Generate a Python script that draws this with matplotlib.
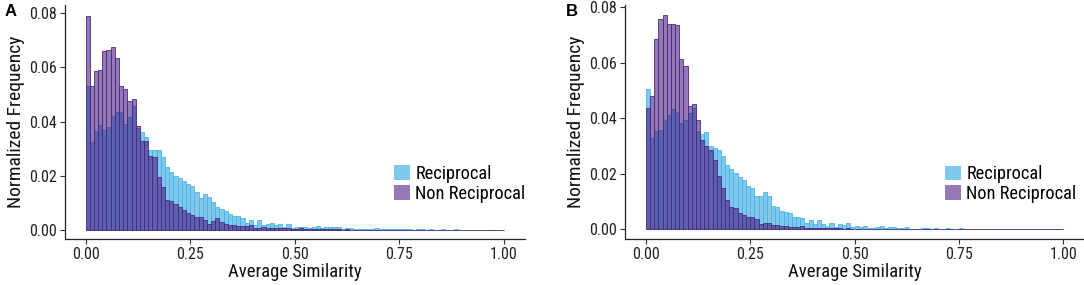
import numpy as np
import matplotlib
matplotlib.use("Agg")
import matplotlib.pyplot as plt
from matplotlib import font_manager
from matplotlib.patches import Patch
from matplotlib.colors import to_rgba

avail = {f.name for f in font_manager.fontManager.ttflist}
fam = [f for f in ['Liberation Sans Narrow', 'Roboto Condensed', 'Open Sans Condensed', 'Liberation Sans'] if f in avail] + ['DejaVu Sans']
plt.rcParams['font.family'] = fam

bin_width = 0.01
bin_left = np.round(np.arange(100) * bin_width, 2)

recip_A = [
    0.0533, 0.0323, 0.0364, 0.0389, 0.0369, 0.0379, 0.0422, 0.0437, 0.0434, 0.0391,
    0.0416, 0.0456, 0.0378, 0.0360, 0.0342, 0.0295, 0.0295, 0.0295, 0.0270, 0.0233,
    0.0215, 0.0200, 0.0192, 0.0180, 0.0170, 0.0163, 0.0138, 0.0117, 0.0134, 0.0122,
    0.0101, 0.0085, 0.0077, 0.0069, 0.0059, 0.0050, 0.0052, 0.0045, 0.0024, 0.0035,
    0.0019, 0.0035, 0.0016, 0.0020, 0.0024, 0.0016, 0.0020, 0.0012, 0.0022, 0.0005,
    0.0012, 0.0011, 0.0010, 0.0008, 0.0010, 0.0015, 0.0008, 0.0010, 0.0010, 0.0011,
    0.0011, 0.0004, 0.0006, 0.0008, 0.0004, 0.0003, 0.0003, 0.0002, 0.0004, 0.0006,
    0.0003, 0.0002, 0.0002, 0.0003, 0.0002, 0.0004, 0.0003, 0.0002, 0.0001, 0.0002,
    0.0002, 0.0001, 0.0002, 0.0001, 0.0001, 0.0002, 0.0001, 0.0001, 0.0002, 0.0001,
    0.0001, 0.0001, 0.0001, 0.0000, 0.0001, 0.0001, 0.0000, 0.0001, 0.0000, 0.0001,
]
nonrecip_A = [
    0.0790, 0.0533, 0.0586, 0.0589, 0.0660, 0.0665, 0.0675, 0.0636, 0.0533, 0.0520,
    0.0475, 0.0482, 0.0385, 0.0330, 0.0330, 0.0274, 0.0268, 0.0196, 0.0157, 0.0110,
    0.0107, 0.0095, 0.0086, 0.0072, 0.0062, 0.0056, 0.0048, 0.0048, 0.0036, 0.0022,
    0.0031, 0.0043, 0.0027, 0.0021, 0.0019, 0.0019, 0.0015, 0.0015, 0.0015, 0.0019,
    0.0008, 0.0007, 0.0009, 0.0008, 0.0008, 0.0006, 0.0007, 0.0005, 0.0006, 0.0004,
    0.0004, 0.0005, 0.0003, 0.0004, 0.0003, 0.0003, 0.0002, 0.0003, 0.0002, 0.0002,
    0.0002, 0.0001, 0.0002, 0.0001, 0.0001, 0.0001, 0.0001, 0.0001, 0.0000, 0.0001,
    0.0001, 0.0000, 0.0001, 0.0001, 0.0000, 0.0001, 0.0000, 0.0001, 0.0000, 0.0001,
    0.0000, 0.0001, 0.0000, 0.0000, 0.0001, 0.0000, 0.0000, 0.0001, 0.0000, 0.0000,
    0.0001, 0.0000, 0.0000, 0.0000, 0.0001, 0.0000, 0.0000, 0.0000, 0.0000, 0.0001,
]
recip_B = [
    0.0504, 0.0329, 0.0353, 0.0357, 0.0393, 0.0413, 0.0434, 0.0422, 0.0383, 0.0393,
    0.0419, 0.0437, 0.0353, 0.0345, 0.0350, 0.0300, 0.0293, 0.0284, 0.0265, 0.0231,
    0.0217, 0.0202, 0.0190, 0.0176, 0.0156, 0.0148, 0.0120, 0.0120, 0.0133, 0.0120,
    0.0084, 0.0080, 0.0067, 0.0064, 0.0058, 0.0046, 0.0046, 0.0040, 0.0022, 0.0034,
    0.0019, 0.0034, 0.0019, 0.0012, 0.0022, 0.0010, 0.0019, 0.0017, 0.0024, 0.0010,
    0.0012, 0.0010, 0.0013, 0.0004, 0.0004, 0.0010, 0.0012, 0.0004, 0.0010, 0.0010,
    0.0006, 0.0006, 0.0007, 0.0002, 0.0002, 0.0002, 0.0003, 0.0004, 0.0001, 0.0006,
    0.0002, 0.0002, 0.0003, 0.0001, 0.0002, 0.0004, 0.0002, 0.0001, 0.0002, 0.0001,
    0.0001, 0.0001, 0.0002, 0.0001, 0.0001, 0.0001, 0.0000, 0.0001, 0.0001, 0.0000,
    0.0001, 0.0000, 0.0001, 0.0000, 0.0000, 0.0001, 0.0000, 0.0000, 0.0001, 0.0000,
]
nonrecip_B = [
    0.0437, 0.0482, 0.0687, 0.0757, 0.0771, 0.0739, 0.0739, 0.0735, 0.0614, 0.0590,
    0.0446, 0.0453, 0.0395, 0.0322, 0.0301, 0.0287, 0.0248, 0.0193, 0.0150, 0.0106,
    0.0080, 0.0076, 0.0057, 0.0052, 0.0043, 0.0043, 0.0036, 0.0019, 0.0022, 0.0022,
    0.0016, 0.0016, 0.0012, 0.0012, 0.0010, 0.0010, 0.0010, 0.0012, 0.0004, 0.0005,
    0.0004, 0.0004, 0.0005, 0.0003, 0.0004, 0.0003, 0.0003, 0.0002, 0.0003, 0.0002,
    0.0002, 0.0002, 0.0001, 0.0002, 0.0001, 0.0001, 0.0001, 0.0001, 0.0000, 0.0001,
    0.0001, 0.0000, 0.0001, 0.0000, 0.0001, 0.0000, 0.0000, 0.0001, 0.0000, 0.0000,
    0.0001, 0.0000, 0.0000, 0.0000, 0.0001, 0.0000, 0.0000, 0.0000, 0.0000, 0.0000,
    0.0000, 0.0000, 0.0001, 0.0000, 0.0000, 0.0000, 0.0000, 0.0000, 0.0000, 0.0000,
    0.0000, 0.0000, 0.0000, 0.0000, 0.0000, 0.0000, 0.0000, 0.0000, 0.0000, 0.0000,
]

series_labels = ["Reciprocal", "Non Reciprocal"]
x_ticks = [0.00, 0.25, 0.50, 0.75, 1.00]
y_ticks = [0.00, 0.02, 0.04, 0.06, 0.08]
x_label = "Average Similarity"
y_label = "Normalized Frequency"
panel_letters = ["A", "B"]

blue_fill = to_rgba('#0096DB', 0.5)
blue_edge = '#4FB3E6'
purple_fill = to_rgba('#3C0C7C', 0.55)
purple_edge = '#4E2A82'

W, H = 1084, 285
fig = plt.figure(figsize=(W / 100, H / 100), dpi=100)

panels = [
    dict(rect=[64.6 / W, 46 / H, 460.4 / W, 234 / H], ylim=(-0.0034, 0.0831),
         recip=recip_A, nonrecip=nonrecip_A, leg=(0.716, 0.235), letter_x=5 / W),
    dict(rect=[625 / W, 45.7 / H, 459 / W, 234.8 / H], ylim=(-0.0036, 0.0810),
         recip=recip_B, nonrecip=nonrecip_B, leg=(0.698, 0.235), letter_x=566 / W),
]

for p, letter in zip(panels, panel_letters):
    ax = fig.add_axes(p['rect'])
    ax.bar(bin_left, p['recip'], width=bin_width, align='edge',
           facecolor=blue_fill, edgecolor=blue_edge, linewidth=0.6, label=series_labels[0])
    ax.bar(bin_left, p['nonrecip'], width=bin_width, align='edge',
           facecolor=purple_fill, edgecolor=purple_edge, linewidth=0.6, label=series_labels[1])
    ax.set_xlim(-0.05, 1.05)
    ax.set_ylim(*p['ylim'])
    ax.set_xticks(x_ticks)
    ax.set_xticklabels([f"{v:.2f}" for v in x_ticks])
    ax.set_yticks(y_ticks)
    ax.set_yticklabels([f"{v:.2f}" for v in y_ticks])
    for s in ['top', 'right']:
        ax.spines[s].set_visible(False)
    for s in ['left', 'bottom']:
        ax.spines[s].set_color('#222222')
        ax.spines[s].set_linewidth(0.9)
    ax.tick_params(axis='both', length=3.5, width=0.8, color='#333333',
                   labelsize=11.5, labelcolor='#222222', pad=2)
    ax.set_xlabel(x_label, fontsize=13.5, labelpad=1, color='#111111')
    ax.set_ylabel(y_label, fontsize=14, labelpad=3, color='#111111')
    handles = [Patch(facecolor=blue_fill, edgecolor='none'),
               Patch(facecolor=purple_fill, edgecolor='none')]
    ax.legend(handles, series_labels, loc='center left', bbox_to_anchor=p['leg'],
              frameon=False, fontsize=13.2, handlelength=0.85, handleheight=0.85,
              handletextpad=0.3, labelspacing=0.1, borderpad=0, borderaxespad=0)
    fig.text(p['letter_x'], 1 - 12 / H, letter, fontsize=12, fontweight='bold',
             va='center', ha='left', family=['Liberation Sans', 'DejaVu Sans'])

fig.savefig('out.png', dpi=100)
